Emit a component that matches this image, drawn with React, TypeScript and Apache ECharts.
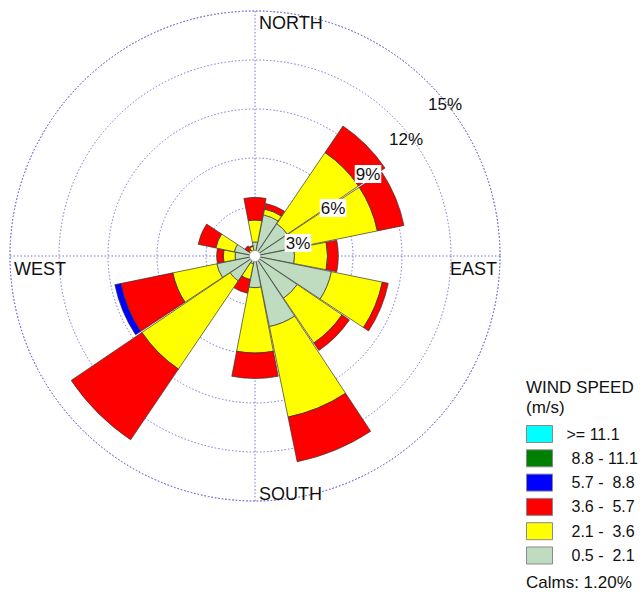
import React, { useEffect, useRef } from "react";
import * as echarts from "echarts";

// 16 compass directions (clockwise from north)
const directions = ["N", "NNE", "NE", "ENE", "E", "ESE", "SE", "SSE", "S", "SSW", "SW", "WSW", "W", "WNW", "NW", "NNW"];

// frequency (%) per wind-speed class, per direction
const speed05to21 = [0.86, 2.57, 2.39, 2.39, 2.42, 4.78, 3.12, 4.41, 1.94, 0.49, 1.84, 2.39, 1.22, 1.29, 0.30, 0.35];
const speed21to36 = [1.34, 0.36, 5.26, 5.26, 2.02, 3.18, 3.31, 5.66, 4.00, 0.98, 6.52, 2.75, 0.72, 1.16, 0.15, 0.25];
const speed36to57 = [1.39, 0.35, 1.96, 1.66, 0.66, 0.37, 0.55, 2.79, 1.56, 0.86, 5.23, 3.25, 0.41, 1.10, 0.30, 0.05];
const speed57to88 = [0, 0, 0, 0, 0, 0, 0, 0, 0, 0, 0, 0.37, 0, 0, 0, 0];
const speed88to111 = [0, 0, 0, 0, 0, 0, 0, 0, 0, 0, 0, 0, 0, 0, 0, 0];
const speedOver111 = [0, 0, 0, 0, 0, 0, 0, 0, 0, 0, 0, 0, 0, 0, 0, 0];

const classNames = ["0.5 - 2.1", "2.1 - 3.6", "3.6 - 5.7", "5.7 - 8.8", "8.8 - 11.1", ">= 11.1"];
const classLabels = ["0.5 -  2.1", "2.1 -  3.6", "3.6 -  5.7", "5.7 -  8.8", "8.8 - 11.1", ">= 11.1"];
const classColors = ["#c0dcc0", "#ffff00", "#ff0000", "#0000ff", "#008000", "#00ffff"];
const classData = [speed05to21, speed21to36, speed36to57, speed57to88, speed88to111, speedOver111];

const ringTicks = ["3%", "6%", "9%", "12%", "15%"];
const calmsPct = 1.2;

const FONT = "'Liberation Sans', Arial, sans-serif";
const GRID = "#7474d8";

export default function App() {
  const ref = useRef<HTMLDivElement>(null);
  useEffect(() => {
    if (!ref.current) return;
    const chart = echarts.init(ref.current, undefined, { renderer: "svg" });
    const cx = 255;
    const cy = 256;
    const R = 245;
    const dotted = { color: GRID, width: 1, type: [1.5, 2] as any };

    const ringLabelPos = [
      [298, 243],
      [333, 208],
      [368, 174],
      [406, 139],
      [445, 104],
    ];

    const option: any = {
      animation: false,
      backgroundColor: "#fff",
      polar: [
        { center: [cx, cy], radius: [0, R] },
        { center: [cx, cy], radius: [0, R] },
      ],
      angleAxis: [
        {
          polarIndex: 0,
          type: "category",
          data: directions,
          startAngle: 90 + 360 / 32,
          clockwise: true,
          boundaryGap: true,
          axisLine: { show: false },
          axisTick: { show: false },
          axisLabel: { show: false },
          splitLine: { show: false },
        },
        {
          polarIndex: 1,
          type: "value",
          min: 0,
          max: 360,
          interval: 90,
          startAngle: 90,
          clockwise: true,
          axisLine: { show: true, lineStyle: dotted },
          axisTick: { show: false },
          axisLabel: { show: false },
          splitLine: { show: true, lineStyle: dotted },
        },
      ],
      radiusAxis: [
        {
          polarIndex: 0,
          type: "value",
          min: 0,
          max: 15,
          interval: 3,
          axisLine: { show: false },
          axisTick: { show: false },
          axisLabel: { show: false },
          splitLine: { show: false },
        },
        {
          polarIndex: 1,
          type: "value",
          min: 0,
          max: 15,
          interval: 3,
          axisLine: { show: false },
          axisTick: { show: false },
          axisLabel: { show: false },
          splitLine: { show: true, lineStyle: dotted },
        },
      ],
      legend: {
        orient: "vertical",
        left: 526,
        top: 425,
        padding: 0,
        itemWidth: 26,
        itemHeight: 17,
        itemGap: 6.3,
        icon: "rect",
        selectedMode: false,
        data: classNames.slice().reverse(),
        itemStyle: { borderColor: "#8a8a8a", borderWidth: 1 },
        formatter: (name: string) => {
          const i = classNames.indexOf(name);
          const lbl = classLabels[i].replace(/ {2}/g, " \u00a0");
          return i === 5 ? "{a|" + lbl + "}" : "{b|" + lbl + "}";
        },
        textStyle: {
          fontFamily: FONT,
          fontSize: 16,
          color: "#111",
          rich: {
            a: { fontFamily: FONT, fontSize: 16, color: "#111", padding: [0, 0, 0, 9] },
            b: { fontFamily: FONT, fontSize: 16, color: "#111", padding: [0, 0, 0, 14] },
          },
        },
      },
      series: classData.map((arr, i) => ({
        type: "bar",
        name: classNames[i],
        coordinateSystem: "polar",
        polarIndex: 0,
        stack: "wind",
        barCategoryGap: "3%",
        data: arr.map((v) => (v === 0 ? null : v)),
        itemStyle: { color: classColors[i], borderColor: "#333", borderWidth: 0.7 },
        z: 3,
      })),
      graphic: [
        {
          type: "circle",
          shape: { cx, cy, r: 5.5 },
          style: { fill: "#fff", stroke: "#999", lineWidth: 0.8 },
          z: 100,
        },
        ...["NORTH", "WEST", "EAST", "SOUTH"].map((t, i) => ({
          type: "text",
          x: [259, 14, 450, 259][i],
          y: [23, 269, 269, 494][i],
          z: 100,
          style: {
            text: t,
            font: `18px ${FONT}`,
            fill: "#111",
            textAlign: "left",
            textVerticalAlign: "middle",
            align: "left",
            verticalAlign: "middle",
          },
        })),
        ...ringTicks.map((t, i) => ({
          type: "text",
          x: ringLabelPos[i][0],
          y: ringLabelPos[i][1],
          z: 100,
          style: {
            text: t,
            font: `17px ${FONT}`,
            fill: "#111",
            textAlign: "center",
            textVerticalAlign: "middle",
            align: "center",
            verticalAlign: "middle",
            backgroundColor: i < 3 ? "#fff" : undefined,
            padding: [1, 1, 0, 1],
          },
        })),
        {
          type: "text",
          x: 526,
          y: 387,
          z: 100,
          style: { text: "WIND SPEED", font: `17px ${FONT}`, fill: "#111", textVerticalAlign: "middle", verticalAlign: "middle" },
        },
        {
          type: "text",
          x: 526,
          y: 407,
          z: 100,
          style: { text: "(m/s)", font: `17px ${FONT}`, fill: "#111", textVerticalAlign: "middle", verticalAlign: "middle" },
        },
        {
          type: "text",
          x: 526,
          y: 582,
          z: 100,
          style: {
            text: `Calms: ${calmsPct.toFixed(2)}%`,
            font: `17px ${FONT}`,
            fill: "#111",
            textVerticalAlign: "middle",
            verticalAlign: "middle",
          },
        },
      ],
    };
    chart.setOption(option);
    return () => chart.dispose();
  }, []);
  return (
    <div
      ref={ref}
      style={{ position: "absolute", left: 0, top: 0, width: 643, height: 592, background: "#fff" }}
    />
  );
}
